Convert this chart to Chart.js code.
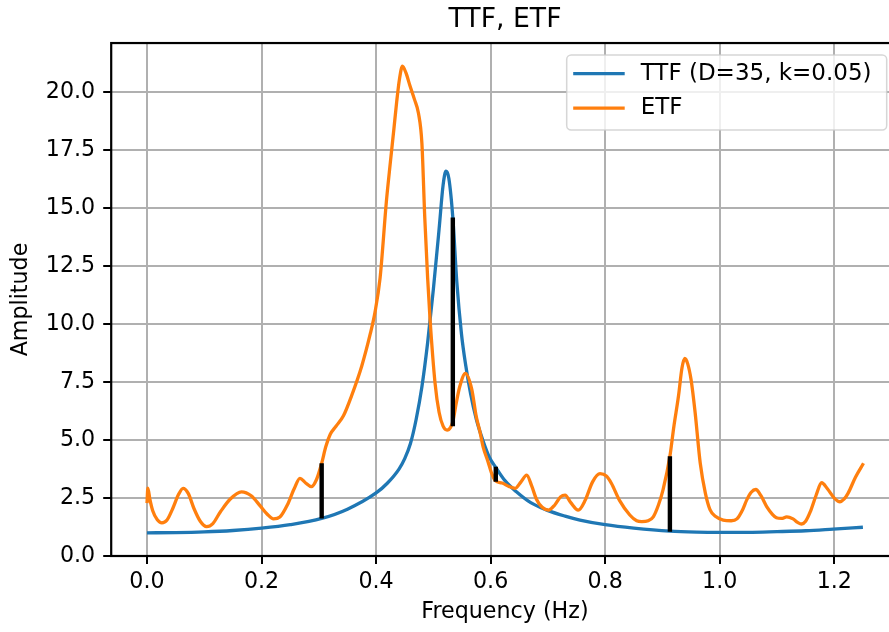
<!DOCTYPE html>
<html>
<head>
<meta charset="utf-8">
<title>TTF, ETF</title>
<script src="https://cdn.jsdelivr.net/npm/chart.js@4.4.1/dist/chart.umd.min.js"></script>
<style>
  html, body { margin: 0; padding: 0; background: #fff; overflow: hidden; }
  #wrap { width: 1010px; height: 632px; }
</style>
</head>
<body>
<div id="wrap"><canvas id="chart" width="1010" height="632"></canvas></div>
<script>
// Theoretical transfer function (TTF)
const ttfFreq = [0.00, 0.05, 0.10, 0.15, 0.20, 0.25, 0.305, 0.35, 0.40, 0.42, 0.44, 0.45, 0.46, 0.47, 0.48, 0.49,
  0.50, 0.51, 0.517, 0.522, 0.527, 0.534, 0.541, 0.549, 0.556, 0.565, 0.575, 0.587, 0.598, 0.609, 0.625, 0.645,
  0.67, 0.698, 0.73, 0.756, 0.80, 0.85, 0.913, 0.96, 1.00, 1.05, 1.10, 1.15, 1.198, 1.25];
const ttfAmp = [1.00, 1.01, 1.04, 1.10, 1.20, 1.35, 1.62, 2.02, 2.72, 3.15, 3.75, 4.2, 4.85, 5.9, 7.3, 9.2,
  11.5, 14.1, 16.0, 16.6, 16.3, 14.6, 11.8, 9.6, 8.3, 7.0, 5.9, 4.95, 4.25, 3.82, 3.25, 2.77,
  2.3, 1.98, 1.72, 1.55, 1.35, 1.2, 1.07, 1.03, 1.02, 1.02, 1.05, 1.09, 1.16, 1.24];

// Empirical transfer function (ETF)
const etfFreq = [0.000, 0.0015, 0.005, 0.010, 0.018, 0.026, 0.035, 0.045, 0.055, 0.063, 0.072, 0.082, 0.093, 0.104,
  0.115, 0.128, 0.145, 0.165, 0.182, 0.198, 0.21, 0.221, 0.232, 0.245, 0.257, 0.267, 0.277, 0.287, 0.296, 0.305,
  0.312, 0.320, 0.330, 0.343, 0.357, 0.375, 0.390, 0.398, 0.407, 0.418, 0.425, 0.431, 0.436, 0.441, 0.446, 0.452,
  0.459, 0.467, 0.474, 0.480, 0.485, 0.490, 0.494, 0.503, 0.510, 0.517, 0.524, 0.530, 0.534, 0.540, 0.546, 0.556,
  0.567, 0.575, 0.581, 0.587, 0.595, 0.602, 0.608, 0.620, 0.632, 0.643, 0.653, 0.663, 0.672, 0.680, 0.690, 0.701,
  0.712, 0.722, 0.730, 0.740, 0.753, 0.765, 0.778, 0.791, 0.802, 0.811, 0.825, 0.843, 0.855, 0.864, 0.875, 0.884,
  0.893, 0.901, 0.913, 0.920, 0.928, 0.934, 0.939, 0.944, 0.950, 0.957, 0.966, 0.975, 0.983, 0.993, 1.006, 1.020,
  1.030, 1.040, 1.047, 1.055, 1.063, 1.072, 1.082, 1.092, 1.099, 1.108, 1.117, 1.128, 1.136, 1.143, 1.150, 1.158,
  1.168, 1.178, 1.188, 1.200, 1.210, 1.217, 1.224, 1.237, 1.251];
const etfAmp = [2.28, 2.93, 2.45, 1.95, 1.56, 1.43, 1.55, 2.05, 2.65, 2.92, 2.7, 2.05, 1.5, 1.27,
  1.4, 1.9, 2.45, 2.77, 2.6, 2.15, 1.8, 1.6, 1.68, 2.2, 2.9, 3.35, 3.15, 2.99, 3.3, 4.0,
  4.7, 5.25, 5.6, 6.05, 6.9, 8.2, 9.6, 10.5, 12.0, 15.3, 17.0, 18.4, 19.6, 20.6, 21.13, 20.85,
  20.3, 19.7, 19.1, 17.8, 14.6, 12.0, 10.3, 7.45, 6.2, 5.6, 5.43, 5.55, 5.8, 6.6, 7.3, 7.88,
  7.2, 6.0, 5.4, 4.7, 4.1, 3.55, 3.25, 3.15, 3.0, 2.92, 3.2, 3.49, 3.0, 2.45, 2.1, 1.98,
  2.2, 2.55, 2.63, 2.3, 1.98, 2.4, 3.2, 3.55, 3.45, 3.13, 2.4, 1.77, 1.52, 1.48, 1.52, 1.69,
  2.2, 2.85, 4.3, 5.6, 6.9, 8.1, 8.52, 8.3, 7.6, 6.2, 4.0, 2.7, 2.0, 1.7, 1.55, 1.52,
  1.6, 2.0, 2.41, 2.75, 2.87, 2.6, 2.13, 1.8, 1.65, 1.62, 1.69, 1.6, 1.45, 1.38, 1.5, 1.9,
  2.6, 3.16, 2.9, 2.5, 2.34, 2.45, 2.7, 3.4, 4.0];

// Black vertical markers between the two curves
const markerFreq = [0.305, 0.534, 0.609, 0.913];
const markerLow = [1.62, 5.6, 3.2, 1.05];
const markerHigh = [4.0, 14.6, 3.85, 4.3];

const legendLabels = ["TTF (D=35, k=0.05)", "ETF"];
const legendColors = ["#1f77b4", "#ff7f0e"];

document.addEventListener("DOMContentLoaded", () => {
  Chart.defaults.font.family = "'DejaVu Sans', sans-serif";
  Chart.defaults.font.size = 22.2;
  Chart.defaults.color = "#000";

  const toPoints = (xs, ys) => xs.map((x, i) => ({ x: x, y: ys[i] }));

  const datasets = [
    {
      label: legendLabels[0],
      data: toPoints(ttfFreq, ttfAmp),
      borderColor: legendColors[0],
      borderWidth: 3.3,
      pointRadius: 0,
      cubicInterpolationMode: "monotone",
      borderJoinStyle: "round",
      order: 2,
    },
    {
      label: legendLabels[1],
      data: toPoints(etfFreq, etfAmp),
      borderColor: legendColors[1],
      borderWidth: 3.3,
      pointRadius: 0,
      cubicInterpolationMode: "monotone",
      borderJoinStyle: "round",
      order: 1,
    },
  ];

  markerFreq.forEach((f, i) => {
    datasets.push({
      label: "marker" + i,
      data: [{ x: f, y: markerLow[i] }, { x: f, y: markerHigh[i] }],
      borderColor: "#000",
      borderWidth: 4.4,
      borderCapStyle: "butt",
      pointRadius: 0,
      order: 0,
    });
  });

  // Box around the axes and a matplotlib-like legend inside the plot
  const frameAndLegend = {
    id: "frameAndLegend",
    afterDatasetsDraw(chart) {
      const { ctx, chartArea: a } = chart;
      ctx.save();
      ctx.strokeStyle = "#000";
      ctx.lineWidth = 2.2;
      ctx.strokeRect(a.left, a.top, a.right - a.left, a.bottom - a.top);

      const w = 320, h = 75, r = 4.5;
      const bx = a.right - 12 - w, by = a.top + 12;
      ctx.beginPath();
      ctx.moveTo(bx + r, by);
      ctx.arcTo(bx + w, by, bx + w, by + h, r);
      ctx.arcTo(bx + w, by + h, bx, by + h, r);
      ctx.arcTo(bx, by + h, bx, by, r);
      ctx.arcTo(bx, by, bx + w, by, r);
      ctx.closePath();
      ctx.fillStyle = "rgba(255,255,255,0.8)";
      ctx.fill();
      ctx.strokeStyle = "rgba(204,204,204,0.8)";
      ctx.lineWidth = 1.5;
      ctx.stroke();

      ctx.font = "23px 'DejaVu Sans', sans-serif";
      ctx.textBaseline = "middle";
      ctx.textAlign = "left";
      legendLabels.forEach((label, i) => {
        const y = by + 18.5 + i * 34.5;
        ctx.strokeStyle = legendColors[i];
        ctx.lineWidth = 3.3;
        ctx.beginPath();
        ctx.moveTo(bx + 6.5, y);
        ctx.lineTo(bx + 58, y);
        ctx.stroke();
        ctx.fillStyle = "#000";
        ctx.fillText(label, bx + 74, y);
      });
      ctx.restore();
    },
  };

  new Chart(document.getElementById("chart"), {
    type: "line",
    data: { datasets: datasets },
    plugins: [frameAndLegend],
    options: {
      responsive: false,
      animation: false,
      devicePixelRatio: 1,
      plugins: {
        legend: { display: false },
        tooltip: { enabled: false },
        title: {
          display: true,
          text: "TTF, ETF",
          color: "#000",
          font: { size: 26.7, weight: "normal" },
          padding: { top: 4, bottom: 7 },
        },
      },
      scales: {
        x: {
          type: "linear",
          min: -0.0625,
          max: 1.3125,
          ticks: {
            stepSize: 0.2,
            includeBounds: false,
            maxRotation: 0,
            autoSkip: false,
            padding: 5,
            callback: (v) => v.toFixed(1),
          },
          grid: { color: "#b0b0b0", lineWidth: 2, tickLength: 8, tickColor: "#000", tickWidth: 2 },
          border: { display: false },
          title: { display: true, text: "Frequency (Hz)", padding: { top: 6, bottom: 6 } },
          afterFit: (s) => { s.height = 76; },
        },
        y: {
          min: 0,
          max: 22.13,
          ticks: {
            stepSize: 2.5,
            includeBounds: false,
            padding: 8,
            callback: (v) => v.toFixed(1),
          },
          grid: { color: "#b0b0b0", lineWidth: 2, tickLength: 8, tickColor: "#000", tickWidth: 2 },
          border: { display: false },
          title: { display: true, text: "Amplitude", padding: { top: 8, bottom: 8 } },
          afterFit: (s) => { s.width = 111.2; },
        },
        // empty spacer so the title centres over the axes like the original
        y2: {
          position: "right",
          display: true,
          ticks: { display: false },
          grid: { display: false },
          border: { display: false },
          afterFit: (s) => { s.width = 111.3; },
        },
      },
    },
  });
});
</script>
</body>
</html>
